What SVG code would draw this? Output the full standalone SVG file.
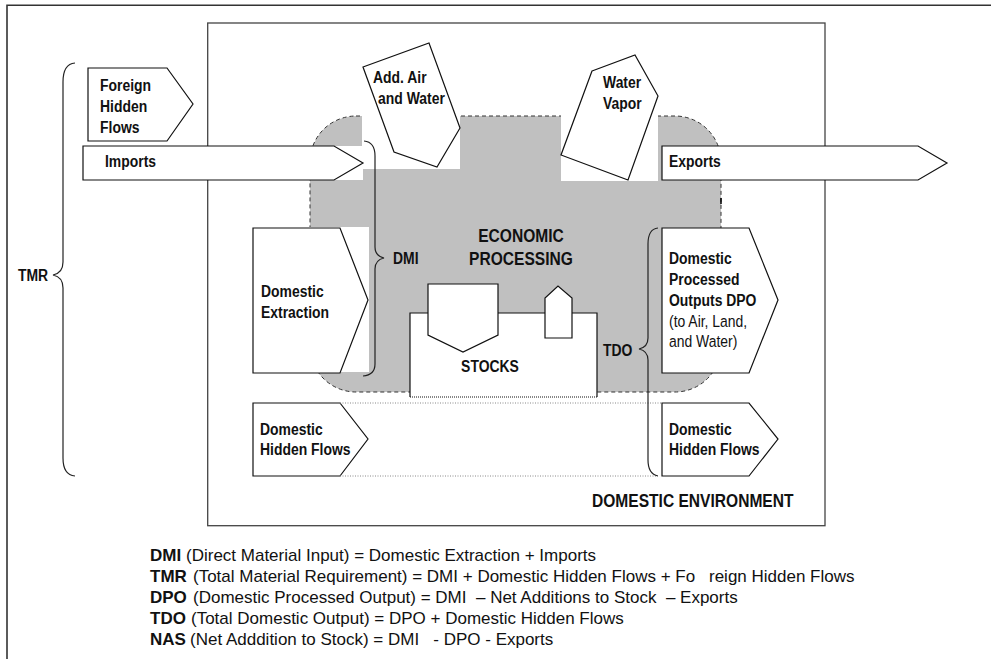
<svg xmlns="http://www.w3.org/2000/svg" width="991" height="659" viewBox="0 0 991 659">
<style>
.lbl{font-family:"Liberation Sans",Arial,sans-serif;font-weight:bold;font-size:17px;fill:#111}
.reg{font-weight:normal}
.big{font-size:19px}
.eq{font-family:"Liberation Sans",Arial,sans-serif;font-size:17px;fill:#111}
.eqb{font-weight:bold}
.shape{fill:#fff;stroke:#111;stroke-width:1.2}
.brace{fill:none;stroke:#222;stroke-width:1.2}
.dot{fill:none;stroke:#888;stroke-width:1;stroke-dasharray:1,1.5}
</style>
<rect width="991" height="659" fill="#fff"/>
<g id="frame">
<path d="M7,659 V5.3 H991" fill="none" stroke="#333" stroke-width="1.6"/>
</g>
<g id="domestic-environment">
<rect x="207.7" y="23" width="617.3" height="502.7" fill="none" stroke="#444" stroke-width="1.3"/>
<text class="lbl big" transform="translate(592,507) scale(.82,1)">DOMESTIC ENVIRONMENT</text>
</g>
<g id="economic-processing">
<rect x="310" y="116" width="411" height="276" rx="46" ry="46" fill="#c0c0c0" stroke="#333" stroke-width="1" stroke-dasharray="4,3"/>
<rect x="300" y="146" width="63" height="34" fill="#fff"/>
<rect x="362" y="110" width="98" height="59" fill="#fff"/>
<rect x="561" y="110" width="97" height="71" fill="#fff"/>
<rect x="300" y="227" width="69" height="145" fill="#fff"/>
<line x1="721" y1="198" x2="721" y2="204" stroke="#000" stroke-width="1.5"/>
<text class="lbl big" text-anchor="middle" transform="translate(521,242) scale(.82,1)">ECONOMIC</text>
<text class="lbl big" text-anchor="middle" transform="translate(521,265) scale(.82,1)">PROCESSING</text>
</g>
<g id="stocks">
<path d="M410,397 V313 H597 V397" fill="#fff" stroke="#111" stroke-width="1.2"/>
<line x1="410" y1="397" x2="597" y2="397" stroke="#111" stroke-width="1.2" stroke-dasharray="1,1"/>
<polygon class="shape" points="428,284 498,284 498,335 463,352 428,335"/>
<polygon class="shape" points="545,338 545,298 558,286 572,298 572,338"/>
<text class="lbl" text-anchor="middle" transform="translate(490,372) scale(.82,1)">STOCKS</text>
</g>
<g id="foreign-hidden-flows">
<polygon class="shape" points="88,68 167,68 193,104 167,141 88,141"/>
<text class="lbl" transform="translate(100,91) scale(.82,1)">Foreign</text>
<text class="lbl" transform="translate(100,112) scale(.82,1)">Hidden</text>
<text class="lbl" transform="translate(100,133) scale(.82,1)">Flows</text>
</g>
<g id="imports">
<polygon class="shape" points="83,146 334,146 363,163 334,180 83,180"/>
<text class="lbl" transform="translate(105,167) scale(.82,1)">Imports</text>
</g>
<g id="exports">
<polygon class="shape" points="662,146 918,146 947,163 918,180 662,180"/>
<text class="lbl" transform="translate(669,167) scale(.82,1)">Exports</text>
</g>
<g id="add-air-water">
<polygon class="shape" points="363,67 429,43 460,128 437,167 394,152"/>
<text class="lbl" transform="translate(373,83) scale(.82,1)">Add. Air</text>
<text class="lbl" transform="translate(378,104) scale(.82,1)">and Water</text>
</g>
<g id="water-vapor">
<polygon class="shape" points="592,71 635,55 658,96 628,180 561,155"/>
<text class="lbl" transform="translate(603,88) scale(.82,1)">Water</text>
<text class="lbl" transform="translate(603,109) scale(.82,1)">Vapor</text>
</g>
<g id="domestic-extraction">
<polygon class="shape" points="253,228 340,228 368,300 340,373 253,373"/>
<text class="lbl" transform="translate(261,297) scale(.82,1)">Domestic</text>
<text class="lbl" transform="translate(261,318) scale(.82,1)">Extraction</text>
</g>
<g id="dpo">
<polygon class="shape" points="662,228 749,228 778,300 749,373 662,373"/>
<text class="lbl" transform="translate(669,264) scale(.82,1)">Domestic</text>
<text class="lbl" transform="translate(669,285) scale(.82,1)">Processed</text>
<text class="lbl" transform="translate(669,306) scale(.82,1)">Outputs DPO</text>
<text class="lbl reg" transform="translate(669,327) scale(.82,1)">(to Air, Land,</text>
<text class="lbl reg" transform="translate(669,347) scale(.82,1)">and Water)</text>
</g>
<g id="domestic-hidden-flows-in">
<polygon class="shape" points="253,403 340,403 368,439 340,476 253,476"/>
<text class="lbl" transform="translate(260,435) scale(.82,1)">Domestic</text>
<text class="lbl" transform="translate(260,455) scale(.82,1)">Hidden Flows</text>
</g>
<g id="domestic-hidden-flows-out">
<polygon class="shape" points="662,403 749,403 778,439 749,476 662,476"/>
<text class="lbl" transform="translate(669,435) scale(.82,1)">Domestic</text>
<text class="lbl" transform="translate(669,455) scale(.82,1)">Hidden Flows</text>
</g>
<g id="connectors">
<line class="dot" x1="340" y1="403" x2="662" y2="403"/>
<line class="dot" x1="340" y1="476" x2="658" y2="476"/>
<path class="brace" d="M75,63 Q63,64 63,82 L63,262 Q63,273 53,275 Q63,277 63,288 L63,458 Q63,475 75,476"/>
<path class="brace" d="M364,141 Q375,142 375,156 L375,247 Q375,256 384,258 Q375,260 375,269 L375,364 Q375,375 363,376"/>
<path class="brace" d="M658,228 Q648,229 648,244 L648,338 Q648,347 639,349 Q648,351 648,360 L648,460 Q648,474 658,476"/>
</g>
<g id="brace-labels">
<text class="lbl" transform="translate(18,281) scale(.82,1)">TMR</text>
<text class="lbl" transform="translate(393,264) scale(.82,1)">DMI</text>
<text class="lbl" transform="translate(603,356) scale(.82,1)">TDO</text>
</g>
<g id="definitions">
<text class="eq" y="561"><tspan class="eqb" x="150">DMI</tspan><tspan x="186">(Direct Material Input) = Domestic Extraction + Imports</tspan></text>
<text class="eq" y="582"><tspan class="eqb" x="150">TMR</tspan><tspan x="193">(Total Material Requirement) = DMI + Domestic Hidden Flows + Fo</tspan><tspan x="709">reign Hidden Flows</tspan></text>
<text class="eq" y="603" xml:space="preserve"><tspan class="eqb" x="150">DPO</tspan><tspan x="193">(Domestic Processed Output) = DMI  – Net Additions to Stock  – Exports</tspan></text>
<text class="eq" y="624"><tspan class="eqb" x="150">TDO</tspan><tspan x="191">(Total Domestic Output) = DPO + Domestic Hidden Flows</tspan></text>
<text class="eq" y="645" xml:space="preserve"><tspan class="eqb" x="150">NAS</tspan><tspan x="190">(Net Adddition to Stock) = DMI   - DPO - Exports</tspan></text>
</g>
</svg>
